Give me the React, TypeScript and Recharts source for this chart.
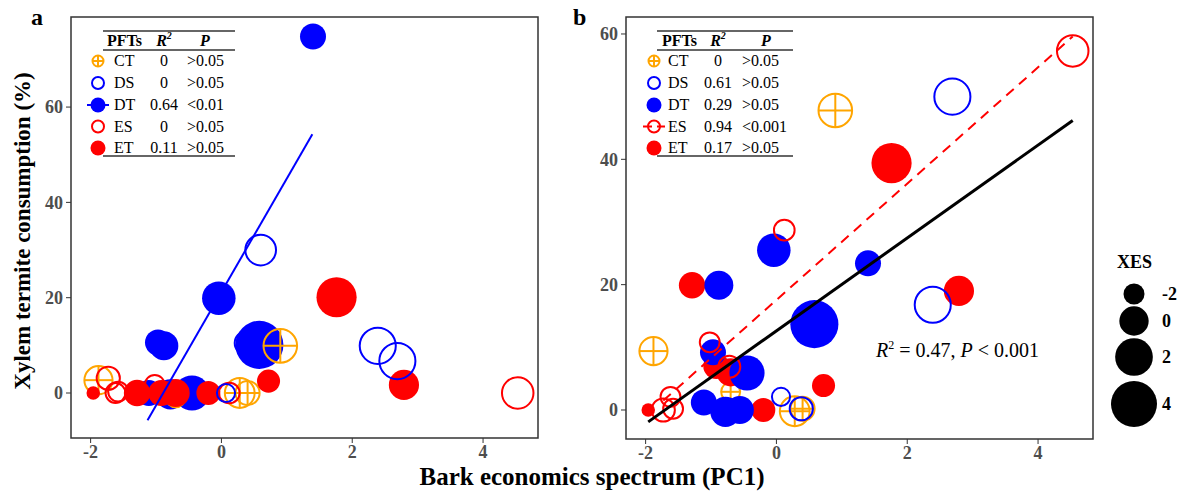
import React from 'react';
import { ScatterChart, Scatter, XAxis, YAxis, ZAxis, ReferenceArea } from 'recharts';

const FONT = '"Liberation Serif", "Times New Roman", Times, serif';
const ORANGE = '#FFA500';
const BLUE = '#0000FF';
const RED = '#FF0000';
const FRAME = '#333333';
const TICK_GREY = '#4D4D4D';

type Pt = { x: number; z: number; ya: number; yb: number };

// x = bark economics spectrum (PC1), z = XES, ya = panel a value, yb = panel b value
const ctPoints: Pt[] = [
  { x: -1.88, z: 0.2, ya: 2.7, yb: 9.4 },
  { x: 0.9, z: 1.5, ya: 9.9, yb: 47.8 },
  { x: 0.28, z: 0.6, ya: 0, yb: -0.2 },
  { x: 0.4, z: -0.8, ya: 0, yb: 0.2 },
  { x: -0.7, z: -2.0, ya: -1.0, yb: 2.9 },
];
const dsPoints: Pt[] = [
  { x: 0.6, z: 0.8, ya: 30.0, yb: 13.5 },
  { x: 2.39, z: 2.1, ya: 9.9, yb: 16.8 },
  { x: 2.69, z: 2.1, ya: 6.7, yb: 50.0 },
  { x: 0.07, z: -2.2, ya: 0, yb: 2.1 },
  { x: 0.38, z: -1.0, ya: 10.5, yb: 0.2 },
];
const dtPoints: Pt[] = [
  { x: 1.4, z: -0.8, ya: 74.8, yb: 23.4 },
  { x: -0.04, z: 1.0, ya: 19.9, yb: 25.5 },
  { x: 0.58, z: 4.5, ya: 10.1, yb: 13.7 },
  { x: -0.97, z: -0.8, ya: 10.6, yb: 9.2 },
  { x: -0.88, z: -0.1, ya: 9.9, yb: 19.9 },
  { x: -0.45, z: 1.4, ya: 0, yb: 5.9 },
  { x: -1.11, z: -0.8, ya: 0, yb: 1.2 },
  { x: -0.78, z: 0.2, ya: -0.3, yb: -0.3 },
  { x: -0.56, z: -0.3, ya: 0, yb: 0 },
];
const esPoints: Pt[] = [
  { x: 4.53, z: 1.0, ya: 0, yb: 57.3 },
  { x: -1.73, z: -1.0, ya: 3.1, yb: 0 },
  { x: -1.62, z: -1.8, ya: 0, yb: 2.1 },
  { x: -1.02, z: -1.8, ya: 1.7, yb: 10.8 },
  { x: -0.72, z: -1.3, ya: 0, yb: 6.9 },
  { x: 0.12, z: -1.6, ya: 0, yb: 28.7 },
  { x: -1.58, z: -1.8, ya: 0.3, yb: 0.2 },
];
const etPoints: Pt[] = [
  { x: 1.76, z: 2.6, ya: 20.1, yb: 39.4 },
  { x: 2.79, z: 0.2, ya: 1.7, yb: 19.0 },
  { x: 0.72, z: -1.5, ya: 2.5, yb: 3.9 },
  { x: -1.96, z: -3.8, ya: 0, yb: 0 },
  { x: -1.29, z: -0.7, ya: 0, yb: 19.9 },
  { x: -0.92, z: -0.8, ya: 0, yb: 7.0 },
  { x: -0.2, z: -1.3, ya: 0, yb: 0 },
  { x: -0.7, z: -0.3, ya: 0, yb: 6.0 },
];

// fitted lines (endpoints)
const fitDT_a = [{ x: -1.13, ya: -5.7 }, { x: 1.39, ya: 54.3 }];
const fitES_b = [{ x: -1.73, yb: 1.5 }, { x: 4.53, yb: 59.6 }];
const fitAll_b = [{ x: -1.96, yb: -1.9 }, { x: 4.53, yb: 46.2 }];

const xTicks = [-2, 0, 2, 4];
const yTicksA = [0, 20, 40, 60];
const yTicksB = [0, 20, 40, 60];
const X_DOMAIN: [number, number] = [-2.3, 4.84];
const Y_DOMAIN_A: [number, number] = [-9.44, 78.9];
const Y_DOMAIN_B: [number, number] = [-4.63, 62.71];

// XES size scale: value -> symbol radius
const XES_DOMAIN: [number, number] = [-6, 6];
const RADIUS_RANGE: [number, number] = [2.17, 27.17];
const xesLegend = [-2, 0, 2, 4];
const radiusOf = (v: number) =>
  RADIUS_RANGE[0] + ((v - XES_DOMAIN[0]) / (XES_DOMAIN[1] - XES_DOMAIN[0])) * (RADIUS_RANGE[1] - RADIUS_RANGE[0]);

const pftLabels = ['CT', 'DS', 'DT', 'ES', 'ET'];
const r2A = ['0', '0', '0.64', '0', '0.11'];
const pA = ['>0.05', '>0.05', '<0.01', '>0.05', '>0.05'];
const r2B = ['0', '0.61', '0.29', '0.94', '0.17'];
const pB = ['>0.05', '>0.05', '>0.05', '<0.001', '>0.05'];

const colorOf: Record<string, string> = { CT: ORANGE, DS: BLUE, DT: BLUE, ES: RED, ET: RED };

function drawSymbol(kind: string, cx: number, cy: number, r: number) {
  const c = colorOf[kind];
  if (kind === 'DT' || kind === 'ET') return <circle cx={cx} cy={cy} r={r} fill={c} />;
  const rr = Math.max(r - 1, 1);
  if (kind === 'CT')
    return (
      <g>
        <circle cx={cx} cy={cy} r={rr} fill="none" stroke={c} strokeWidth={2} />
        <line x1={cx - rr} y1={cy} x2={cx + rr} y2={cy} stroke={c} strokeWidth={2} />
        <line x1={cx} y1={cy - rr} x2={cx} y2={cy + rr} stroke={c} strokeWidth={2} />
      </g>
    );
  return <circle cx={cx} cy={cy} r={rr} fill="none" stroke={c} strokeWidth={2} />;
}

const shapeFor = (kind: string) => (props: any) => {
  const { cx, cy, size } = props;
  if (cx == null || cy == null) return <g />;
  return drawSymbol(kind, cx, cy, size);
};
const noShape = () => <g />;

const tickStyle = { fill: TICK_GREY, fontSize: 18, fontWeight: 700, fontFamily: FONT };

function PanelA() {
  return (
    <ScatterChart
      width={560}
      height={492}
      margin={{ top: 17, right: 22, bottom: 24, left: 31 }}
      style={{ position: 'absolute', left: 0, top: 0 }}
    >
      <XAxis type="number" dataKey="x" domain={X_DOMAIN} ticks={xTicks} interval={0} axisLine={false}
        tickLine={{ stroke: FRAME }} tickSize={5} tickMargin={2} height={30} tick={tickStyle} />
      <YAxis type="number" dataKey="ya" domain={Y_DOMAIN_A} ticks={yTicksA} interval={0} axisLine={false}
        tickLine={{ stroke: FRAME }} tickSize={5} tickMargin={3} width={40} tick={tickStyle} />
      <ZAxis type="number" dataKey="z" domain={XES_DOMAIN} range={RADIUS_RANGE} />
      <ReferenceArea x1={X_DOMAIN[0]} x2={X_DOMAIN[1]} y1={Y_DOMAIN_A[0]} y2={Y_DOMAIN_A[1]}
        fill="none" fillOpacity={0} stroke={FRAME} strokeWidth={1.5} ifOverflow="visible" />
      <Scatter data={dtPoints} shape={shapeFor('DT')} isAnimationActive={false} />
      <Scatter data={ctPoints} shape={shapeFor('CT')} isAnimationActive={false} />
      <Scatter data={etPoints} shape={shapeFor('ET')} isAnimationActive={false} />
      <Scatter data={esPoints} shape={shapeFor('ES')} isAnimationActive={false} />
      <Scatter data={dsPoints} shape={shapeFor('DS')} isAnimationActive={false} />
      <Scatter data={fitDT_a} shape={noShape} line={{ stroke: BLUE, strokeWidth: 2 }} isAnimationActive={false} />
    </ScatterChart>
  );
}

function PanelB() {
  return (
    <ScatterChart
      width={560}
      height={492}
      margin={{ top: 17, right: 27, bottom: 23, left: 26 }}
      style={{ position: 'absolute', left: 560, top: 0 }}
    >
      <XAxis type="number" dataKey="x" domain={X_DOMAIN} ticks={xTicks} interval={0} axisLine={false}
        tickLine={{ stroke: FRAME }} tickSize={5} tickMargin={2} height={30} tick={tickStyle} />
      <YAxis type="number" dataKey="yb" domain={Y_DOMAIN_B} ticks={yTicksB} interval={0} axisLine={false}
        tickLine={{ stroke: FRAME }} tickSize={5} tickMargin={3} width={40} tick={tickStyle} />
      <ZAxis type="number" dataKey="z" domain={XES_DOMAIN} range={RADIUS_RANGE} />
      <ReferenceArea x1={X_DOMAIN[0]} x2={X_DOMAIN[1]} y1={Y_DOMAIN_B[0]} y2={Y_DOMAIN_B[1]}
        fill="none" fillOpacity={0} stroke={FRAME} strokeWidth={1.5} ifOverflow="visible" />
      <Scatter data={ctPoints} shape={shapeFor('CT')} isAnimationActive={false} />
      <Scatter data={etPoints} shape={shapeFor('ET')} isAnimationActive={false} />
      <Scatter data={dtPoints} shape={shapeFor('DT')} isAnimationActive={false} />
      <Scatter data={dsPoints} shape={shapeFor('DS')} isAnimationActive={false} />
      <Scatter data={esPoints} shape={shapeFor('ES')} isAnimationActive={false} />
      <Scatter data={fitES_b} shape={noShape} line={{ stroke: RED, strokeWidth: 2, strokeDasharray: '10 7' }} isAnimationActive={false} />
      <Scatter data={fitAll_b} shape={noShape} line={{ stroke: '#000000', strokeWidth: 3 }} isAnimationActive={false} />
    </ScatterChart>
  );
}

type TableCfg = {
  lineX1: number; lineX2: number; symX: number; labelX: number; r2X: number; pX: number; pHeadX: number; headX: number;
};

function PftTable({ cfg, r2, p, fitKind, dashed }: { cfg: TableCfg; r2: string[]; p: string[]; fitKind: string; dashed: boolean }) {
  const rowBase = [66, 88, 110, 131.5, 153];
  const symR: Record<string, number> = { CT: 6.5, DS: 7, DT: 7.5, ES: 7, ET: 7.5 };
  const txt = { fontFamily: FONT, fontSize: 16, fill: '#000' } as const;
  return (
    <g>
      <line x1={cfg.lineX1} x2={cfg.lineX2} y1={31} y2={31} stroke={FRAME} strokeWidth={1.3} />
      <line x1={cfg.lineX1} x2={cfg.lineX2} y1={50} y2={50} stroke={FRAME} strokeWidth={1.3} />
      <line x1={cfg.lineX1} x2={cfg.lineX2} y1={156} y2={156} stroke={FRAME} strokeWidth={1.3} />
      <text x={cfg.headX} y={46} {...txt} fontWeight={700}>PFTs</text>
      <text x={cfg.r2X} y={46} {...txt} fontWeight={700} fontStyle="italic" textAnchor="middle">
        R<tspan fontSize={10} dy={-7}>2</tspan>
      </text>
      <text x={cfg.pHeadX} y={46} {...txt} fontWeight={700} fontStyle="italic" textAnchor="middle">P</text>
      {pftLabels.map((lab, i) => {
        const cy = rowBase[i] - 5;
        return (
          <g key={lab}>
            {lab === fitKind && (
              <line x1={cfg.symX - 11} x2={cfg.symX + 11} y1={cy} y2={cy}
                stroke={colorOf[lab]} strokeWidth={2} strokeDasharray={dashed ? '9 5' : undefined} />
            )}
            {drawSymbol(lab, cfg.symX, cy, symR[lab])}
            <text x={cfg.labelX} y={rowBase[i]} {...txt}>{lab}</text>
            <text x={cfg.r2X} y={rowBase[i]} {...txt} textAnchor="middle">{r2[i]}</text>
            <text x={cfg.pX} y={rowBase[i]} {...txt}>{p[i]}</text>
          </g>
        );
      })}
    </g>
  );
}

function Overlay() {
  const legendCy = [294, 321, 357, 404];
  return (
    <svg width={1184} height={492} style={{ position: 'absolute', left: 0, top: 0, pointerEvents: 'none' }}>
      <text x={31} y={25} fontFamily={FONT} fontSize={24} fontWeight={700}>a</text>
      <text x={573} y={25} fontFamily={FONT} fontSize={24} fontWeight={700}>b</text>
      <PftTable
        cfg={{ lineX1: 103, lineX2: 235, symX: 98, labelX: 114, r2X: 164, pX: 187, pHeadX: 205, headX: 107 }}
        r2={r2A} p={pA} fitKind="DT" dashed={false}
      />
      <PftTable
        cfg={{ lineX1: 657, lineX2: 793, symX: 654, labelX: 668, r2X: 718, pX: 742, pHeadX: 766, headX: 662 }}
        r2={r2B} p={pB} fitKind="ES" dashed={true}
      />
      <text x={876} y={357} fontFamily={FONT} fontSize={20} fill="#000">
        <tspan fontStyle="italic">R</tspan>
        <tspan fontSize={12} dy={-8}>2</tspan>
        <tspan dy={8}> = 0.47, </tspan>
        <tspan fontStyle="italic">P</tspan>
        <tspan> &lt; 0.001</tspan>
      </text>
      <text x={592} y={485} fontFamily={FONT} fontSize={25} fontWeight={700} textAnchor="middle" fill="#000">
        Bark economics spectrum (PC1)
      </text>
      <text x={-231} y={30} transform="rotate(-90)" fontFamily={FONT} fontSize={23} fontWeight={700}
        textAnchor="middle" fill="#000">
        Xylem termite consumption (%)
      </text>
      <text x={1117} y={268} fontFamily={FONT} fontSize={18} fontWeight={700} fill="#000">XES</text>
      {xesLegend.map((v, i) => (
        <g key={v}>
          <circle cx={1134} cy={legendCy[i]} r={radiusOf(v)} fill="#000" />
          <text x={1162} y={legendCy[i] + 6} fontFamily={FONT} fontSize={18} fontWeight={700} fill="#000">{String(v)}</text>
        </g>
      ))}
    </svg>
  );
}

export default function App() {
  return (
    <div style={{ position: 'absolute', left: 0, top: 0, width: 1184, height: 492, background: '#fff', overflow: 'hidden' }}>
      <PanelA />
      <PanelB />
      <Overlay />
    </div>
  );
}
